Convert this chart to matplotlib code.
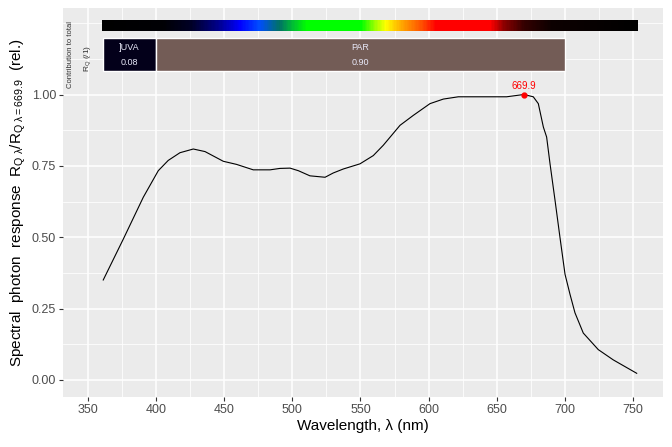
import matplotlib
matplotlib.use("Agg")
import matplotlib.pyplot as plt
import numpy as np

plt.rcParams["font.family"] = ["Liberation Sans", "DejaVu Sans"]
plt.rcParams["mathtext.fontset"] = "custom"
plt.rcParams["mathtext.rm"] = "Liberation Sans"
plt.rcParams["mathtext.it"] = "Liberation Sans:italic"

# spectral response
wl = [361.2, 375.9, 390.6, 401.6, 408.9, 417.5, 427.3, 435.9, 449.3, 459.1,
      471.3, 483.6, 490.9, 498.3, 504.4, 512.9, 524.0, 530.0, 537.4, 549.6,
      559.4, 566.7, 579.0, 588.8, 601.0, 610.8, 621.8, 657.2, 669.9, 676.8,
      680.5, 684.2, 686.6, 689.1, 692.8, 696.4, 700.1, 703.8, 707.4, 713.5,
      724.5, 735.5, 752.7]
resp = [0.350, 0.493, 0.640, 0.733, 0.769, 0.796, 0.809, 0.800, 0.766, 0.755,
        0.736, 0.736, 0.741, 0.742, 0.733, 0.715, 0.710, 0.725, 0.739, 0.757,
        0.786, 0.822, 0.892, 0.927, 0.968, 0.984, 0.992, 0.992, 1.000, 0.992,
        0.968, 0.886, 0.851, 0.757, 0.628, 0.499, 0.370, 0.299, 0.235, 0.164,
        0.106, 0.070, 0.023]
peak_wl = 669.9
peak_val = 1.0

# waveband summary boxes
bands = ["]UVA", "PAR"]
band_lo = [360.8, 400.0]
band_hi = [400.0, 700.0]
band_val = ["0.08", "0.90"]
band_col = ["#03001A", "#735C56"]

# colour bar anchors (wavelength -> rgb)
cb_wl = [360, 405, 425, 445, 461, 475, 490, 500, 510, 550, 560, 568, 580, 595, 605, 645, 655, 670, 690, 753]
cb_rgb = [(0, 0, 0), (0, 0, 0.02), (0, 0, 0.15), (0, 0, 0.55), (0, 0, 1), (0, 0.3, 1), (0, 0.45, 0.4),
          (0, 0.75, 0.2), (0, 1, 0), (0, 1, 0), (0.6, 1, 0), (1, 1, 0), (1, 0.65, 0), (1, 0.3, 0),
          (1, 0, 0), (1, 0, 0), (0.55, 0, 0), (0.2, 0, 0), (0.05, 0, 0), (0, 0, 0)]

fig = plt.figure(figsize=(6.72, 4.47), dpi=100)
ax = fig.add_axes([0.0938, 0.1119, 0.8928, 0.8701])
ax.set_facecolor("#EBEBEB")

ax.set_xlim(331.7, 772)
ax.set_ylim(-0.06, 1.303)

ax.set_xticks(np.arange(350, 751, 50))
ax.set_xticks(np.arange(375, 751, 50), minor=True)
ax.set_yticks([0, 0.25, 0.5, 0.75, 1.0])
ax.set_yticks([0.125, 0.375, 0.625, 0.875, 1.125, 1.25], minor=True)
ax.set_yticklabels(["0.00", "0.25", "0.50", "0.75", "1.00"])
ax.grid(True, which="major", color="white", lw=1.1)
ax.grid(True, which="minor", color="white", lw=0.55)
ax.set_axisbelow(True)
for s in ax.spines.values():
    s.set_visible(False)
ax.tick_params(which="major", length=3, color="#333333", labelcolor="#4D4D4D", labelsize=9, pad=2)
ax.tick_params(which="minor", length=0)

# colour bar
cb_x = np.arange(cb_wl[0], cb_wl[-1] + 1, 1.0)
r = np.interp(cb_x, cb_wl, [c[0] for c in cb_rgb])
g = np.interp(cb_x, cb_wl, [c[1] for c in cb_rgb])
b = np.interp(cb_x, cb_wl, [c[2] for c in cb_rgb])
img = np.stack([r, g, b], axis=1)[None, :, :]
ax.imshow(img, extent=[cb_x[0], cb_x[-1], 1.223, 1.259], aspect="auto", interpolation="nearest", zorder=2)

# band boxes
for name, lo, hi, v, c in zip(bands, band_lo, band_hi, band_val, band_col):
    ax.add_patch(plt.Rectangle((lo, 1.081), hi - lo, 0.116, facecolor=c, edgecolor="white", lw=1, zorder=2))
    ax.text((lo + hi) / 2, 1.165, name, ha="center", va="center", fontsize=6.5, color="#E8E8F8", zorder=3)
    ax.text((lo + hi) / 2, 1.113, v, ha="center", va="center", fontsize=6.5, color="#E8E8F8", zorder=3)

ax.text(337.0, 1.14, "Contribution to total", rotation=90, ha="center", va="center", fontsize=5.5, color="#333333")
ax.text(350, 1.127, r"$\mathrm{R_Q}$ (/1)", rotation=90, ha="center", va="center", fontsize=6, color="#333333")

ax.plot(wl, resp, color="black", lw=0.8, zorder=3)
ax.plot([peak_wl], [peak_val], "o", color="red", ms=3.5, zorder=4)
ax.text(peak_wl, peak_val + 0.012, "669.9", color="red", ha="center", va="bottom", fontsize=7, zorder=4)

ax.set_xlabel("Wavelength, λ (nm)", fontsize=11, labelpad=2)
ax.set_ylabel(r"Spectral  photon  response  $\mathrm{R_{Q\ λ}/R_{Q\ λ=669.9}}$  (rel.)",
              fontsize=11, labelpad=3)

fig.savefig("out.png", dpi=100)
